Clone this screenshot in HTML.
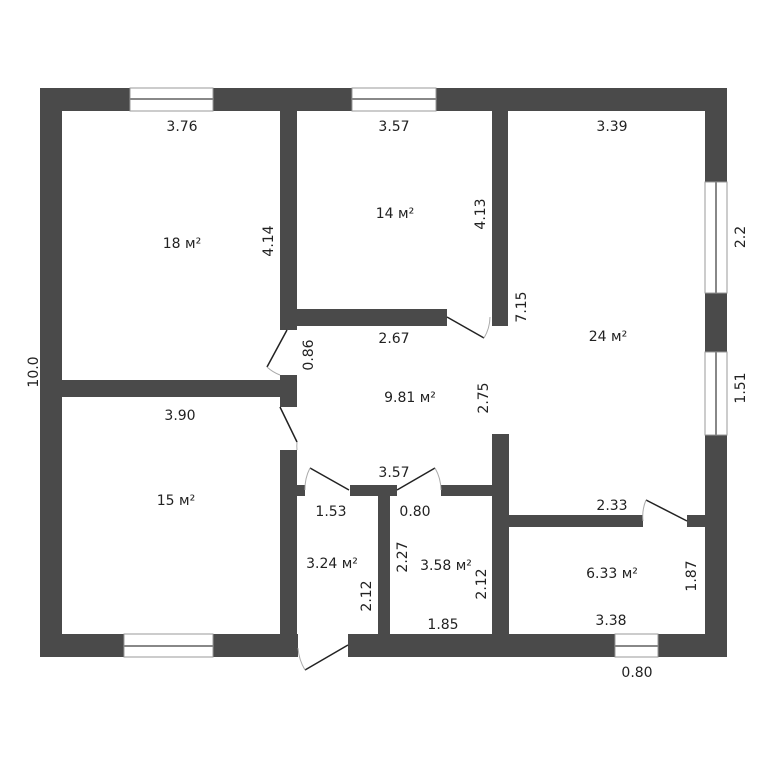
<!DOCTYPE html>
<html><head><meta charset="utf-8"><style>
html,body{margin:0;padding:0;background:#fff;}
svg{display:block}
text{font-family:"DejaVu Sans","Liberation Sans",sans-serif;font-size:14px;fill:#222;}
</style></head><body>
<svg width="768" height="768" viewBox="0 0 768 768" xmlns="http://www.w3.org/2000/svg">
<rect width="768" height="768" fill="#fff"/>
<g fill="#4a4a4a">
<rect x="40" y="88" width="687" height="23"/>
<rect x="40" y="88" width="22" height="569"/>
<rect x="705" y="88" width="22" height="569"/>
<rect x="40" y="634" width="258" height="23"/>
<rect x="348" y="634" width="379" height="23"/>
<rect x="280" y="88" width="17" height="242"/>
<rect x="280" y="375" width="17" height="32"/>
<rect x="40" y="380" width="257" height="17"/>
<rect x="280" y="450" width="17" height="207"/>
<rect x="280" y="309" width="167" height="17"/>
<rect x="492" y="88" width="16" height="238"/>
<rect x="492" y="434" width="17" height="223"/>
<rect x="280" y="485" width="25" height="11"/>
<rect x="350" y="485" width="47" height="11"/>
<rect x="441" y="485" width="68" height="11"/>
<rect x="378" y="485" width="12" height="172"/>
<rect x="492" y="515" width="151" height="12"/>
<rect x="687" y="515" width="40" height="12"/>
</g>
<g fill="#fff" stroke="#999" stroke-width="1">
<rect x="130" y="88" width="83" height="23"/>
<rect x="352" y="88" width="84" height="23"/>
<rect x="124" y="634" width="89" height="23"/>
<rect x="615" y="634" width="43" height="23"/>
<rect x="705" y="182" width="22" height="111"/>
<rect x="705" y="352" width="22" height="83"/>
</g>
<g stroke="#888" stroke-width="2">
<line x1="130" y1="99" x2="213" y2="99"/>
<line x1="352" y1="99" x2="436" y2="99"/>
<line x1="124" y1="646" x2="213" y2="646"/>
<line x1="615" y1="646" x2="658" y2="646"/>
<line x1="716" y1="182" x2="716" y2="293"/>
<line x1="716" y1="352" x2="716" y2="435"/>
</g>
<g stroke="#222" stroke-width="1.5" fill="none">
<line x1="447" y1="317" x2="484" y2="338"/>
<line x1="287" y1="330" x2="267" y2="367"/>
<line x1="280" y1="407" x2="297" y2="442"/>
<line x1="349" y1="490" x2="310" y2="468"/>
<line x1="397" y1="490" x2="435" y2="468"/>
<line x1="646" y1="500" x2="687" y2="521"/>
<line x1="348" y1="645" x2="305" y2="670"/>
</g>
<g stroke="#aaa" stroke-width="1" fill="none">
<path d="M484 338 A42 42 0 0 0 490 317"/>
<path d="M267 367 A40 40 0 0 0 280 375"/>
<path d="M297 442 A40 40 0 0 0 297 450"/>
<path d="M310 468 A45 45 0 0 0 305 490"/>
<path d="M435 468 A45 45 0 0 1 441 490"/>
<path d="M646 500 A42 42 0 0 0 643 521"/>
<path d="M305 670 A50 50 0 0 1 298 648"/>
</g>
<text x="182" y="131" text-anchor="middle">3.76</text>
<text x="182" y="248" text-anchor="middle">18 м²</text>
<text x="394" y="131" text-anchor="middle">3.57</text>
<text x="395" y="218" text-anchor="middle">14 м²</text>
<text x="612" y="131" text-anchor="middle">3.39</text>
<text x="608" y="341" text-anchor="middle">24 м²</text>
<text x="394" y="343" text-anchor="middle">2.67</text>
<text x="410" y="402" text-anchor="middle">9.81 м²</text>
<text x="180" y="420" text-anchor="middle">3.90</text>
<text x="176" y="505" text-anchor="middle">15 м²</text>
<text x="394" y="477" text-anchor="middle">3.57</text>
<text x="331" y="516" text-anchor="middle">1.53</text>
<text x="415" y="516" text-anchor="middle">0.80</text>
<text x="612" y="510" text-anchor="middle">2.33</text>
<text x="332" y="568" text-anchor="middle">3.24 м²</text>
<text x="446" y="570" text-anchor="middle">3.58 м²</text>
<text x="612" y="578" text-anchor="middle">6.33 м²</text>
<text x="443" y="629" text-anchor="middle">1.85</text>
<text x="611" y="625" text-anchor="middle">3.38</text>
<text x="637" y="677" text-anchor="middle">0.80</text>
<text transform="translate(38,372) rotate(-90)" text-anchor="middle">10.0</text>
<text transform="translate(273,241) rotate(-90)" text-anchor="middle">4.14</text>
<text transform="translate(485,214) rotate(-90)" text-anchor="middle">4.13</text>
<text transform="translate(526,307) rotate(-90)" text-anchor="middle">7.15</text>
<text transform="translate(313,355) rotate(-90)" text-anchor="middle">0.86</text>
<text transform="translate(488,398) rotate(-90)" text-anchor="middle">2.75</text>
<text transform="translate(745,237) rotate(-90)" text-anchor="middle">2.2</text>
<text transform="translate(745,388) rotate(-90)" text-anchor="middle">1.51</text>
<text transform="translate(371,596) rotate(-90)" text-anchor="middle">2.12</text>
<text transform="translate(407,557) rotate(-90)" text-anchor="middle">2.27</text>
<text transform="translate(486,584) rotate(-90)" text-anchor="middle">2.12</text>
<text transform="translate(696,576) rotate(-90)" text-anchor="middle">1.87</text>
</svg>
</body></html>
